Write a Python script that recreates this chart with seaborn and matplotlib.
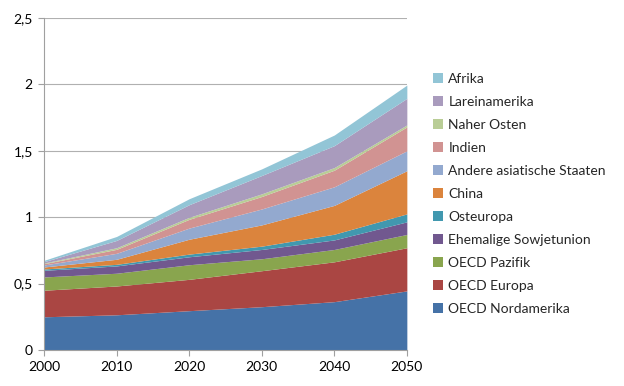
import matplotlib
matplotlib.use("Agg")
import matplotlib.pyplot as plt
import seaborn as sns
from matplotlib.patches import Patch
from matplotlib.ticker import FuncFormatter

years = [2000, 2010, 2020, 2030, 2040, 2050]

# regions, bottom to top
regions = ["OECD Nordamerika", "OECD Europa", "OECD Pazifik", "Ehemalige Sowjetunion",
           "Osteuropa", "China", "Andere asiatische Staaten", "Indien",
           "Naher Osten", "Lareinamerika", "Afrika"]

oecd_nordamerika = [0.25, 0.265, 0.296, 0.326, 0.364, 0.445]
oecd_europa = [0.20, 0.217, 0.236, 0.271, 0.300, 0.325]
oecd_pazifik = [0.10, 0.096, 0.110, 0.090, 0.093, 0.100]
sowjetunion = [0.05, 0.055, 0.060, 0.070, 0.072, 0.095]
osteuropa = [0.01, 0.012, 0.020, 0.025, 0.043, 0.060]
china = [0.015, 0.038, 0.112, 0.160, 0.217, 0.325]
asien_andere = [0.015, 0.045, 0.084, 0.120, 0.140, 0.150]
indien = [0.01, 0.030, 0.066, 0.094, 0.125, 0.180]
naher_osten = [0.005, 0.012, 0.015, 0.020, 0.020, 0.015]
lateinamerika = [0.01, 0.055, 0.095, 0.138, 0.165, 0.200]
afrika = [0.01, 0.030, 0.045, 0.050, 0.080, 0.100]

series = [oecd_nordamerika, oecd_europa, oecd_pazifik, sowjetunion, osteuropa, china,
          asien_andere, indien, naher_osten, lateinamerika, afrika]

colors = ["#4572A7", "#AA4643", "#89A54E", "#71588F", "#4198AF", "#DB843D",
          "#93A9CF", "#D19392", "#B9CD96", "#A99BBD", "#92C5D6"]

sns.set_theme(style="white")
plt.rcParams['font.family'] = ['Lato', 'DejaVu Sans']

fig = plt.figure(figsize=(6.24, 3.86), dpi=100)
ax = fig.add_axes([0.0705, 0.0933, 0.5815, 0.860])

ax.stackplot(years, *series, colors=sns.color_palette(colors), linewidth=0)

ax.set_xlim(2000, 2050)
ax.set_ylim(0, 2.5)
ax.set_xticks(years)
ax.set_yticks([0, 0.5, 1, 1.5, 2, 2.5])
ax.yaxis.set_major_formatter(FuncFormatter(lambda v, p: f"{v:g}".replace(".", ",")))
ax.yaxis.grid(True, color="#b0b0b0", linewidth=0.8)
ax.set_axisbelow(True)
sns.despine(ax=ax, top=True, right=True)
for s in ("left", "bottom"):
    ax.spines[s].set_color("#a0a0a0")
    ax.spines[s].set_linewidth(0.8)
ax.tick_params(axis="both", which="both", length=4, width=0.8, color="#a0a0a0",
               labelsize=10, labelcolor="black", direction="out")
ax.tick_params(axis="x", bottom=True, pad=4)
ax.tick_params(axis="y", left=True, pad=4)

handles = [Patch(facecolor=c, edgecolor="none") for c in colors][::-1]
labels = regions[::-1]
fig.legend(handles, labels, loc="upper left", bbox_to_anchor=(0.685, 0.825),
           frameon=False, fontsize=10, handlelength=0.7, handleheight=0.7,
           handletextpad=0.4, labelspacing=0.79, borderaxespad=0)

fig.savefig("out.png", dpi=100)
